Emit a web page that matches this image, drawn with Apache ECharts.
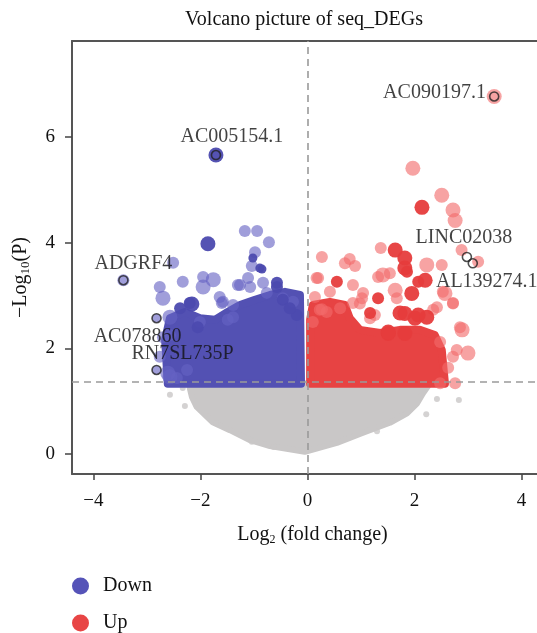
<!DOCTYPE html>
<html>
<head>
<meta charset="utf-8">
<title>Volcano picture of seq_DEGs</title>
<script src="https://cdn.jsdelivr.net/npm/echarts@6/dist/echarts.min.js"></script>
<style>
  html, body { margin: 0; padding: 0; background: #fff; }
  #chart { width: 537px; height: 633px; }
</style>
</head>
<body>
<div id="chart"></div>
<script>
// each point: [log2 fold change, -log10 P, weight (1 small .. 3 large)]
var downSolid = [
  [-1.71, 5.66, 3], [-1.86, 3.98, 3], [-0.85, 3.50, 1], [-2.16, 2.84, 3],
  [-2.38, 2.76, 2], [-2.05, 2.40, 2], [-0.57, 3.16, 2], [-0.46, 2.92, 2],
  [-0.89, 3.52, 1], [-2.20, 2.86, 2], [-0.20, 2.63, 2], [-0.33, 2.76, 2],
  [-1.02, 3.71, 1], [-0.57, 3.24, 2]
];
var downFaint = [
  [-2.51, 3.62, 2], [-1.17, 4.22, 2], [-0.94, 4.22, 2], [-0.72, 4.01, 2],
  [-0.98, 3.82, 2], [-1.04, 3.56, 2], [-1.76, 3.30, 3], [-1.95, 3.16, 3],
  [-2.70, 2.95, 3], [-1.30, 3.20, 2], [-1.11, 3.33, 2], [-1.07, 3.16, 2],
  [-2.57, 2.59, 3], [-2.70, 2.21, 2], [-2.76, 1.84, 2], [-2.57, 1.46, 3],
  [-2.44, 1.44, 2], [-2.25, 1.59, 2], [-1.64, 2.97, 2], [-1.39, 2.82, 2],
  [-1.60, 2.86, 2], [-0.76, 3.05, 2], [-2.57, 2.25, 2], [-3.44, 3.29, 2],
  [-2.82, 2.57, 1], [-2.82, 1.59, 1], [-2.61, 1.53, 3], [-1.39, 2.59, 2],
  [-2.76, 3.16, 2], [-2.33, 3.26, 2], [-1.95, 3.35, 2], [-1.26, 3.20, 2],
  [-0.83, 3.24, 2], [-0.46, 2.95, 2], [-0.27, 2.88, 2], [-1.58, 2.88, 2],
  [-1.49, 2.54, 2], [-2.01, 2.50, 2]
];
var upSolid = [
  [2.14, 4.67, 3], [1.64, 3.86, 3], [1.82, 3.71, 3], [1.82, 3.52, 3],
  [2.20, 3.29, 3], [1.95, 3.04, 3], [0.55, 3.26, 2], [1.32, 2.95, 2],
  [1.82, 2.66, 3], [2.07, 2.63, 3], [1.51, 2.28, 3], [1.82, 2.28, 3],
  [1.17, 2.67, 2], [1.73, 2.67, 3], [2.01, 2.57, 3], [2.23, 2.59, 3],
  [1.51, 2.31, 3], [1.86, 3.45, 2], [2.07, 3.26, 2]
];
var upFaint = [
  [1.97, 5.41, 3], [2.51, 4.90, 3], [2.72, 4.62, 3], [2.76, 4.42, 3],
  [2.88, 3.86, 2], [3.19, 3.64, 2], [1.37, 3.90, 2], [0.27, 3.73, 2],
  [0.79, 3.69, 2], [0.70, 3.61, 2], [0.89, 3.56, 2], [0.20, 3.33, 2],
  [1.41, 3.39, 3], [2.23, 3.58, 3], [1.64, 3.10, 3], [2.57, 3.04, 3],
  [2.72, 2.85, 2], [2.42, 2.78, 2], [2.89, 2.35, 3], [3.00, 1.91, 3],
  [2.63, 1.63, 2], [2.72, 1.84, 2], [0.27, 2.74, 2], [0.10, 2.50, 2],
  [0.98, 2.85, 2], [0.14, 2.97, 2], [0.36, 2.69, 2], [1.26, 2.63, 2],
  [1.02, 2.95, 2], [3.49, 6.77, 3], [2.48, 1.34, 2], [2.76, 1.34, 2],
  [2.51, 3.58, 2], [0.17, 3.33, 2], [0.42, 3.07, 2], [0.85, 3.20, 2],
  [1.04, 3.05, 2], [1.17, 2.57, 2], [0.85, 2.86, 2], [0.61, 2.76, 2],
  [0.23, 2.73, 2], [1.67, 2.95, 2], [2.35, 2.73, 2], [2.53, 3.07, 2],
  [2.72, 2.86, 2], [2.79, 1.97, 2], [2.85, 2.40, 2], [2.48, 2.12, 2],
  [1.54, 3.42, 2], [1.32, 3.35, 2]
];
var nsPoints = [
  [-2.57, 1.12], [-2.33, 1.25], [-2.29, 0.91], [-1.71, 0.58], [-1.04, 0.23],
  [-0.63, 0.13], [1.30, 0.43], [2.22, 0.75], [2.42, 1.04], [2.83, 1.02]
];

// outlines of the densely packed part of each group
var nsCloud = [
  [-2.22, 1.34], [-2.20, 1.25], [-2.16, 1.08], [-2.07, 0.89], [-1.77, 0.60],
  [-1.45, 0.45], [-1.07, 0.26], [-0.70, 0.15], [-0.05, 0.04], [0.55, 0.21],
  [1.04, 0.40], [1.54, 0.59], [1.86, 0.77], [2.05, 0.96], [2.16, 1.15], [2.29, 1.34]
];
var downCloud = [
  [-2.61, 1.33], [-2.66, 2.16], [-2.57, 2.57], [-2.29, 2.69], [-2.01, 2.57],
  [-1.73, 2.54], [-1.49, 2.69], [-1.26, 2.82], [-0.98, 2.92], [-0.70, 3.01],
  [-0.42, 3.07], [-0.14, 3.01], [-0.12, 1.33]
];
var upCloud = [
  [0.05, 1.33], [0.05, 2.54], [0.10, 2.82], [0.42, 2.88], [0.70, 2.82],
  [0.79, 2.57], [0.98, 2.35], [1.36, 2.29], [1.73, 2.35], [2.10, 2.35],
  [2.38, 2.25], [2.51, 1.97], [2.57, 1.33]
];

var genes = ['AC005154.1', 'AC090197.1', 'ADGRF4', 'AC078860', 'RN7SL735P', 'LINC02038', 'AL139274.1'];
var geneX = [-1.71, 3.49, -3.44, -2.82, -2.82, 2.98, 3.09];
var geneY = [5.66, 6.77, 3.29, 2.57, 1.59, 3.73, 3.61];

var xTicks = [-4, -2, 0, 2, 4];
var yTicks = [0, 2, 4, 6];
var pCut = 1.37;

var FONT = 'Liberation Serif';
var sizeOf = {1: 9, 2: 12, 3: 15};

// where each gene label sits next to its point
var labelPlace = {
  'AC005154.1': {position: 'top', offset: [16, 0]},
  'AC090197.1': {position: 'left', offset: [0, -4]},
  'ADGRF4': {position: 'top', offset: [10, 2]},
  'AC078860': {position: 'bottom', offset: [-19, 0]},
  'RN7SL735P': {position: 'top', offset: [26, 2]},
  'LINC02038': {position: 'top', offset: [-3, -1]},
  'AL139274.1': {position: 'bottom', offset: [14, 0]}
};

var chart = echarts.init(document.getElementById('chart'));

function cloud(name, pts, color, width, z) {
  return {
    name: name,
    type: 'custom',
    data: pts,
    z: z,
    silent: true,
    encode: {x: 0, y: 1},
    renderItem: function (params, api) {
      if (params.dataIndex !== 0) return;
      var px = pts.map(function (p) { return api.coord(p); });
      return {
        type: 'polygon',
        shape: {points: px},
        style: {fill: color, stroke: color, lineWidth: width, lineJoin: 'round'}
      };
    }
  };
}

function dots(name, arr, color, op, z) {
  return {
    name: name,
    type: 'scatter',
    data: arr,
    z: z,
    symbolSize: function (v) { return sizeOf[v[2]]; },
    itemStyle: {color: color, opacity: op},
    emphasis: {disabled: true}
  };
}

function legendRow(name, color, top) {
  return {
    left: 72,
    top: top,
    padding: 0,
    icon: 'circle',
    itemWidth: 17,
    itemHeight: 17,
    selectedMode: false,
    textStyle: {fontFamily: FONT, fontSize: 20, color: '#111', padding: [0, 0, 0, 9]},
    data: [{name: name, itemStyle: {color: color, opacity: 1}}]
  };
}

var geneData = genes.map(function (g, i) {
  return {
    name: g,
    value: [geneX[i], geneY[i]],
    label: labelPlace[g]
  };
});

var frame = {show: true, onZero: false, lineStyle: {color: '#555', width: 2}};

var option = {
  backgroundColor: '#fff',
  animation: false,
  title: {
    text: 'Volcano picture of seq_DEGs',
    left: 180,
    top: 5,
    textStyle: {fontFamily: FONT, fontSize: 20, fontWeight: 'normal', color: '#111'}
  },
  legend: [
    legendRow('Down', '#5553b8', 576),
    legendRow('Up', '#e84545', 613)
  ],
  grid: {
    left: 72, top: 41, right: 0, bottom: 159,
    show: false
  },
  xAxis: [{
    type: 'value',
    min: -4.4, max: 4.29,
    name: 'Log{s|2} (fold change)',
    nameLocation: 'middle',
    nameGap: 50,
    nameTextStyle: {
      fontFamily: FONT, fontSize: 20, color: '#111', padding: [0, 0, 0, 16],
      rich: {s: {fontFamily: FONT, fontSize: 12, color: '#111', padding: [10, 0, 0, 0]}}
    },
    axisLine: frame,
    splitLine: {show: false},
    axisTick: {show: true, length: 6, lineStyle: {color: '#444', width: 1.5}, customValues: xTicks},
    axisLabel: {
      fontFamily: FONT, fontSize: 19, color: '#111', margin: 18,
      customValues: xTicks,
      formatter: function (v) { return String(v).replace('-', '\u2212'); }
    }
  }, {
    type: 'value',
    position: 'top',
    min: -4.4, max: 4.29,
    axisLine: frame,
    axisTick: {show: false},
    axisLabel: {show: false},
    splitLine: {show: false}
  }],
  yAxis: {
    type: 'value',
    min: -0.38, max: 7.82,
    name: '\u2212Log{s|10}(P)',
    nameLocation: 'middle',
    nameGap: 40,
    nameTextStyle: {
      fontFamily: FONT, fontSize: 20, color: '#111', padding: [0, 40, 0, 0],
      rich: {s: {fontFamily: FONT, fontSize: 13, color: '#111', padding: [10, 0, 0, 0]}}
    },
    axisLine: frame,
    splitLine: {show: false},
    axisTick: {show: true, length: 7, lineStyle: {color: '#444', width: 1.5}, customValues: yTicks},
    axisLabel: {
      fontFamily: FONT, fontSize: 19, color: '#111', margin: 17,
      customValues: yTicks
    }
  },
  series: [
    cloud('ns', nsCloud, '#c9c7c7', 6, 1),
    {
      name: 'ns', type: 'scatter', data: nsPoints, z: 1, symbolSize: 6,
      itemStyle: {color: '#c9c7c7'}, emphasis: {disabled: true}
    },
    cloud('Down', downCloud, '#5351b3', 8, 2),
    cloud('Up', upCloud, '#e74343', 8, 2),
    dots('Down', downFaint, '#6663c4', 0.62, 3),
    dots('Down', downSolid, '#4c4aaf', 0.95, 4),
    dots('Up', upFaint, '#f26a6a', 0.62, 3),
    dots('Up', upSolid, '#e63c3c', 0.95, 4),
    {
      name: 'genes',
      type: 'scatter',
      data: geneData,
      z: 10,
      symbolSize: 9,
      itemStyle: {color: 'rgba(0,0,0,0)', borderColor: '#222', borderWidth: 1.6},
      emphasis: {disabled: true},
      label: {
        show: true,
        formatter: '{b}',
        distance: 3,
        fontFamily: FONT,
        fontSize: 20,
        color: '#111'
      },
      markLine: {
        silent: true,
        symbol: 'none',
        label: {show: false},
        lineStyle: {color: '#9a9a9a', type: [7, 5], width: 1.6},
        data: [{xAxis: 0}, {yAxis: pCut}]
      }
    }
  ]
};

chart.setOption(option);
</script>
</body>
</html>
